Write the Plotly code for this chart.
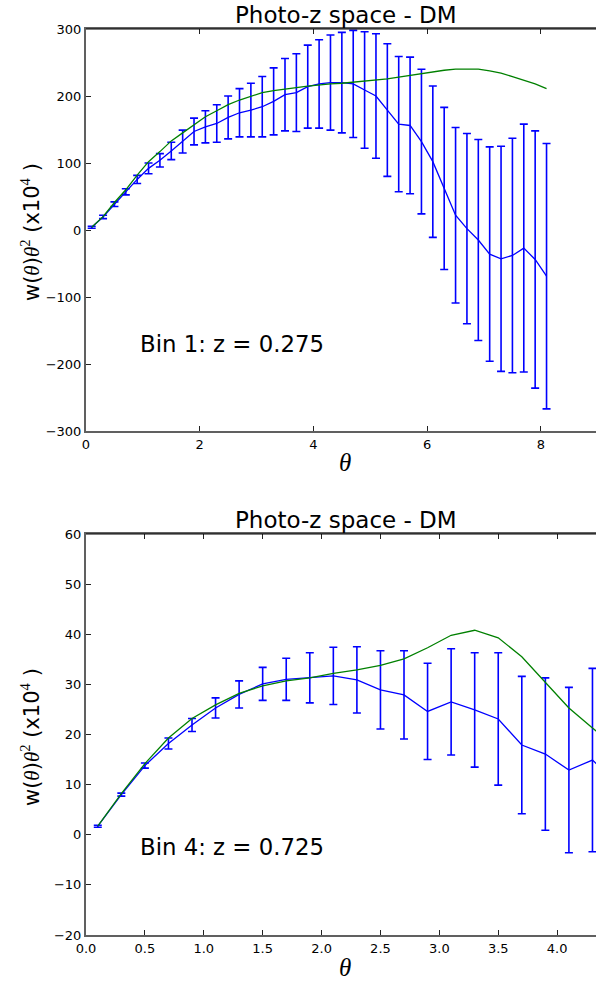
import plotly.graph_objects as go

W, H = 596, 981

# --- Bin 1 (top panel) ---
theta1 = [0.1, 0.3, 0.5, 0.7, 0.9, 1.1, 1.3, 1.5, 1.7, 1.9, 2.1, 2.3, 2.5, 2.7,
          2.9, 3.1, 3.3, 3.5, 3.7, 3.9, 4.1, 4.3, 4.5, 4.7, 4.9, 5.1, 5.3, 5.5,
          5.7, 5.9, 6.1, 6.3, 6.5, 6.7, 6.9, 7.1, 7.3, 7.5, 7.7, 7.9, 8.1]
meas1 = [4, 19.5, 38.5, 57, 75.5, 92, 104, 118, 132, 147, 154, 159, 168, 175,
         179, 184, 192, 202, 205, 214, 218, 220, 220, 218, 209, 200, 179, 158,
         156, 132, 102, 62, 22, 2, -15, -36, -43, -38, -27, -44, -69]
err1 = [1.5, 2.5, 3.5, 4.5, 6, 8, 10, 13, 17, 20, 24, 28, 32, 36,
        40, 45, 50, 54, 58, 62, 66, 71, 75, 80, 87, 93, 99, 101,
        102, 108, 113, 121, 131, 142, 150, 160, 168, 175, 185, 192, 198]
model1 = [4, 20, 41, 60, 82, 102, 117, 133, 145, 157, 169, 178, 187, 194,
          200, 205, 208, 210.6, 212.6, 214.6, 216.6, 218, 219, 220.6, 222.6, 224, 225.6, 228.3,
          231, 234, 236.5, 238.4, 240, 240.5, 240, 237.5, 234, 229, 223.6, 218, 211]

# --- Bin 4 (bottom panel) ---
theta4 = [0.1, 0.3, 0.5, 0.7, 0.9, 1.1, 1.3, 1.5, 1.7, 1.9, 2.1, 2.3, 2.5,
          2.7, 2.9, 3.1, 3.3, 3.5, 3.7, 3.9, 4.1, 4.3, 4.5]
meas4 = [1.7, 8.0, 13.8, 18.2, 21.9, 25.3, 28.0, 30.1, 31.0, 31.3, 31.7, 30.9, 28.9,
         27.9, 24.6, 26.5, 24.9, 23.1, 17.9, 16.1, 12.9, 14.9, 10.5]
err4 = [0.2, 0.3, 0.5, 1.1, 1.3, 2.0, 2.7, 3.3, 4.2, 5.0, 5.7, 6.6, 7.8,
        8.8, 9.6, 10.6, 11.4, 13.2, 13.7, 15.2, 16.5, 18.3, 19.0]
model4 = [1.7, 8.2, 14.2, 19.3, 23.2, 25.9, 28.2, 29.7, 30.7, 31.3, 32.2, 32.9, 33.8,
          35.1, 37.3, 39.8, 40.8, 39.3, 35.5, 30.3, 25.3, 21.3, 17.5]

title_text = "Photo-z space - DM"
bin_labels = ["Bin 1: z = 0.275", "Bin 4: z = 0.725"]

SERIF = "Liberation Serif"
SANS = "DejaVu Sans"
BLUE = "#0000ff"
GREEN = "#008000"
SPINE = "#606060"

ylab = ('w(<span style="font-family:%s"><i>θ</i></span>)'
        '<span style="font-family:%s"><i>θ</i><sup>2</sup></span>'
        ' (x10<span style="font-family:%s"><sup>4</sup></span> )') % (SERIF, SERIF, SERIF)


def px(x):
    return x / W


def py(y):
    return 1 - y / H


fig = go.Figure()

panels = [
    (theta1, meas1, err1, model1, "x", "y"),
    (theta4, meas4, err4, model4, "x2", "y2"),
]
for th, m, e, mod, xa, ya in panels:
    fig.add_scatter(
        x=th, y=m, xaxis=xa, yaxis=ya, mode="lines",
        line=dict(color=BLUE, width=1.3),
        error_y=dict(type="data", array=e, visible=True, color=BLUE,
                     thickness=1.6, width=4),
        showlegend=False,
    )
    fig.add_scatter(
        x=th, y=mod, xaxis=xa, yaxis=ya, mode="lines",
        line=dict(color=GREEN, width=1.3), showlegend=False,
    )

axis_common = dict(
    showgrid=False, zeroline=False, showline=True, linecolor=SPINE, linewidth=2,
    ticks="inside", ticklen=5, tickwidth=1.2, tickcolor="#222", automargin=False,
    tickfont=dict(family=SANS, size=13, color="black"),
)

fig.update_layout(
    width=W, height=H,
    margin=dict(l=0, r=0, t=0, b=0),
    paper_bgcolor="white", plot_bgcolor="white",
    xaxis=dict(axis_common, domain=[px(86), 1.0], anchor="y", range=[0, 8.97],
               tickvals=[0, 2, 4, 6, 8], mirror="ticks"),
    yaxis=dict(axis_common, domain=[py(431), py(29)], anchor="x", range=[-300, 300],
               tickvals=[-300, -200, -100, 0, 100, 200, 300]),
    xaxis2=dict(axis_common, domain=[px(86), 1.0], anchor="y2", range=[0, 4.33],
                tickvals=[0, 0.5, 1, 1.5, 2, 2.5, 3, 3.5, 4], tickformat=".1f",
                mirror="ticks"),
    yaxis2=dict(axis_common, domain=[py(935), py(534)], anchor="x2", range=[-20, 60],
                tickvals=[-20, -10, 0, 10, 20, 30, 40, 50, 60]),
)

# top border in black over the mirrored tick line
for ytop in (29, 534):
    fig.add_shape(type="line", xref="paper", yref="paper",
                  x0=px(86), x1=1.0, y0=py(ytop), y1=py(ytop),
                  line=dict(color="black", width=1.2))

ann = []
for yt in (15, 520):
    ann.append(dict(text=title_text, x=px(345.5), y=py(yt), xref="paper", yref="paper",
                    xanchor="center", yanchor="middle", showarrow=False,
                    font=dict(family=SANS, size=23, color="black")))
for yc in (232, 737):
    ann.append(dict(text=ylab, x=px(30), y=py(yc), xref="paper", yref="paper",
                    xanchor="center", yanchor="middle", textangle=-90, showarrow=False,
                    font=dict(family=SANS, size=21, color="black")))
for yc in (462, 967):
    ann.append(dict(text="<i>θ</i>", x=px(345), y=py(yc), xref="paper", yref="paper",
                    xanchor="center", yanchor="middle", showarrow=False,
                    font=dict(family=SERIF, size=25, color="black")))
ann.append(dict(text=bin_labels[0], x=0.92, y=-170, xref="x", yref="y",
                xanchor="left", yanchor="middle", showarrow=False,
                font=dict(family=SANS, size=22.8, color="black")))
ann.append(dict(text=bin_labels[1], x=0.445, y=-2.5, xref="x2", yref="y2",
                xanchor="left", yanchor="middle", showarrow=False,
                font=dict(family=SANS, size=22.8, color="black")))
fig.update_layout(annotations=ann)

# page body has a default 8px margin; drop it so the figure fills the window
fig.write_html("out.html", config={"displayModeBar": False},
               post_script="document.body.style.margin='0';")
